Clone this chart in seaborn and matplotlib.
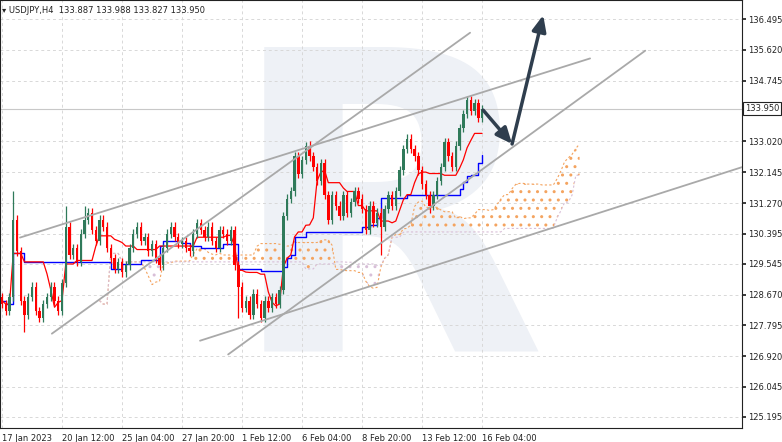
import numpy as np
import pandas as pd
import matplotlib
matplotlib.use("Agg")
import matplotlib.pyplot as plt
import seaborn as sns

sns.set_theme(style="white")
plt.rcParams['font.family'] = ['DejaVu Sans']

closes = [128.4, 128.2, 128.6, 130.8, 129.9, 128.5, 128.1, 128.6, 128.9, 128.2,
          128.0, 128.4, 128.6, 128.9, 128.5, 128.2, 129.0, 130.6, 129.8, 130.0,
          129.6, 130.4, 130.8, 131.0, 130.5, 130.2, 130.8, 130.6, 130.0, 129.7,
          129.4, 129.6, 129.3, 129.5, 130.0, 130.4, 130.6, 130.2, 130.3, 129.9,
          130.1, 129.7, 129.5, 130.0, 130.4, 130.6, 130.3, 130.1, 130.2, 130.0,
          129.9, 130.4, 130.7, 130.5, 130.3, 130.6, 130.2, 130.0, 130.5, 130.4,
          130.2, 130.5, 129.5, 128.9, 128.3, 128.5, 128.1, 128.7, 128.4, 128.0,
          128.5, 128.3, 128.6, 128.4, 128.8, 130.9, 131.4, 131.6, 132.6, 132.1,
          132.5, 132.9, 132.6, 132.3, 131.9, 132.4, 131.5, 130.8, 131.5, 131.2,
          130.9, 131.5, 131.0, 131.3, 131.6, 131.4, 131.1, 130.5, 131.2, 130.7,
          131.0, 130.6, 131.1, 131.5, 131.2, 131.6, 132.2, 132.8, 133.1, 132.8,
          132.6, 132.2, 131.8, 131.5, 131.2, 131.5, 131.9, 132.3, 133.0, 132.6,
          132.3, 132.9, 133.4, 133.8, 134.2, 133.9, 134.1, 133.7, 133.95]
first_open = 128.6
long_low = {6: 127.6, 63: 128.0, 70: 127.9, 101: 129.8, 114: 131.0}
long_high = {3: 131.6, 17: 131.2, 22: 131.2, 81: 133.0, 124: 134.3}

tick_prices = [136.495, 135.620, 134.745, 133.020, 132.145, 131.270, 130.395,
               129.545, 128.670, 127.795, 126.920, 126.045, 125.195]
date_labels = ["17 Jan 2023", "20 Jan 12:00", "25 Jan 04:00", "27 Jan 20:00",
               "1 Feb 12:00", "6 Feb 04:00", "8 Feb 20:00", "13 Feb 12:00", "16 Feb 04:00"]
last_price = 133.950
trend_lines = [((4.8, 130.29), (156.8, 135.38)),
               ((13.3, 127.56), (124.8, 136.11)),
               ((60.3, 126.97), (171.5, 135.60)),
               ((52.8, 127.36), (204.3, 132.53))]
forecast = [(128.3, 133.91), (136.0, 132.95), (144.3, 136.61)]

n = len(closes)
c = pd.Series(closes)
o = c.shift(1).fillna(first_open)
wick = 0.12
h = np.maximum(o, c) + wick
l = np.minimum(o, c) - wick
for k, v in long_low.items(): l[k] = v
for k, v in long_high.items(): h[k] = v

ten = (h.rolling(9, 1).max() + l.rolling(9, 1).min()) / 2
kij = (h.rolling(26, 1).max() + l.rolling(26, 1).min()) / 2
spanA = ((ten + kij) / 2).values
spanB = ((h.rolling(52, 1).max() + l.rolling(52, 1).min()) / 2).values
xc = np.arange(n) + 26

fig = plt.figure(figsize=(7.82, 4.42), dpi=100)
ax = fig.add_axes([0, (442 - 428) / 442, 742 / 782, 428 / 442])
ax.set_xlim(-0.53, 197.3)
ax.set_ylim(124.88, 137.04)

# watermark
ax.text(0.52, 0.45, "R", transform=ax.transAxes, fontsize=300, fontweight="bold",
        color="#eef1f6", ha="center", va="center", zorder=0)

for p in tick_prices:
    ax.axhline(p, color="#d8d8d8", lw=0.7, ls=(0, (3, 3)), zorder=0.5)
for i in range(len(date_labels)):
    ax.axvline(i * 16, color="#d8d8d8", lw=0.7, ls=(0, (3, 3)), zorder=0.5)
ax.axhline(last_price, color="#c8c8c8", lw=0.8, zorder=0.6)

# cloud
up = spanA >= spanB
ax.fill_between(xc, spanA, spanB, where=up, facecolor="none", edgecolor="#f4a460",
                hatch="..", lw=0, interpolate=True, zorder=1)
ax.fill_between(xc, spanA, spanB, where=~up, facecolor="none", edgecolor="#d8bfd8",
                hatch="..", lw=0, interpolate=True, zorder=1)
ax.plot(xc, spanA, color="#f4a460", lw=0.8, ls=(0, (2, 2)), zorder=1.1)
ax.plot(xc, spanB, color="#d8bfd8", lw=0.8, ls=(0, (2, 2)), zorder=1.1)

df = pd.DataFrame({"x": np.arange(n), "ten": ten, "kij": kij})
sns.lineplot(data=df, x="x", y="kij", color="#0000ff", lw=1.0, ax=ax, drawstyle="steps-post", zorder=2)
sns.lineplot(data=df, x="x", y="ten", color="#ff0000", lw=0.9, ax=ax, zorder=2)

for i in range(n):
    col = "#2f7a5a" if c[i] >= o[i] else "#ff0000"
    ax.vlines(i, l[i], h[i], color=col, lw=0.9, zorder=3)
    ax.bar(i, abs(c[i] - o[i]) or 0.02, bottom=min(o[i], c[i]), width=0.65,
           color=col, zorder=3, linewidth=0)

for (p0, p1) in trend_lines:
    ax.plot([p0[0], p1[0]], [p0[1], p1[1]], color="#a9a9a9", lw=1.3, zorder=4)

for a, b in zip(forecast[:-1], forecast[1:]):
    ax.annotate("", xy=b, xytext=a, zorder=5,
                arrowprops=dict(arrowstyle="-|>,head_length=0.8,head_width=0.35",
                                color="#2f3e4e", lw=2.5, shrinkA=0, shrinkB=0))

ax.set_yticks(tick_prices)
ax.set_yticklabels([f"{p:.3f}" for p in tick_prices])
ax.set_xticks([i * 16 for i in range(len(date_labels))])
ax.set_xticklabels(date_labels, ha="left")
ax.yaxis.tick_right()
ax.tick_params(axis="both", labelsize=6, length=3, pad=1.5, colors="#222")
for s in ax.spines.values():
    s.set_color("#222")
    s.set_linewidth(0.8)
ax.set_xlabel("")
ax.set_ylabel("")
ax.text(1.004, (last_price - 124.88) / (137.04 - 124.88), f"{last_price:.3f}",
        transform=ax.transAxes, fontsize=6, va="center", ha="left",
        bbox=dict(boxstyle="square,pad=0.25", fc="white", ec="#222", lw=0.8), clip_on=False)
ax.text(0.003, 0.985, "\u25BE USDJPY,H4  133.887 133.988 133.827 133.950",
        transform=ax.transAxes, fontsize=6, va="top", ha="left", color="#222")

fig.savefig("out.png", dpi=100)
